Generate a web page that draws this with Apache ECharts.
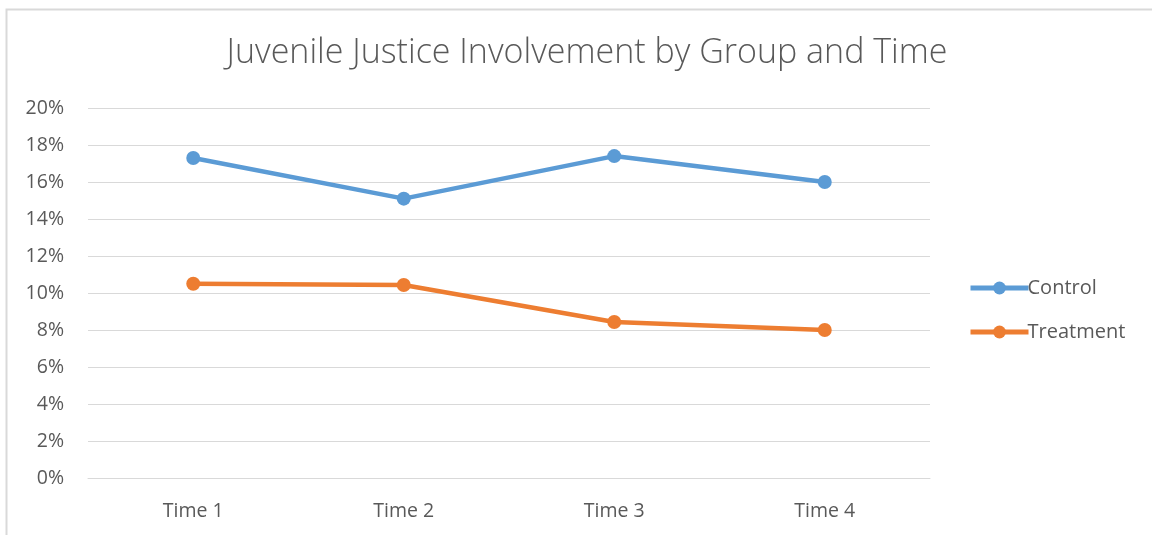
<!DOCTYPE html>
<html><head><meta charset="utf-8">
<script src="https://cdn.jsdelivr.net/npm/echarts@6/dist/echarts.min.js"></script>
<style>html,body{margin:0;padding:0;background:#fff}#c{width:1152px;height:535px}</style>
</head><body><div id="c"></div>
<script>
const categories = ['Time 1', 'Time 2', 'Time 3', 'Time 4'];
const controlValues = [17.3, 15.1, 17.4, 16.0];
const treatmentValues = [10.5, 10.43, 8.43, 8.0];
const yTicks = [0, 2, 4, 6, 8, 10, 12, 14, 16, 18, 20];

const chart = echarts.init(document.getElementById('c'), null, {renderer: 'canvas'});
const textColor = '#595959';
const font = 'Open Sans';
chart.setOption({
  animation: false,
  backgroundColor: '#fff',
  graphic: [{
    type: 'rect', shape: {x: 6.5, y: 9.5, width: 1300, height: 700},
    style: {fill: 'none', stroke: '#d9d9d9', lineWidth: 2}
  }],
  title: {
    text: 'Juvenile Justice Involvement by Group and Time',
    left: 582, top: 31, textAlign: 'center',
    textStyle: {fontFamily: font, fontWeight: 300, fontSize: 34, color: textColor}
  },
  grid: {left: 88, right: 222, top: 108, bottom: 57, containLabel: false},
  legend: {
    orient: 'vertical', left: 963, top: 273, itemGap: 24,
    itemWidth: 58, itemHeight: 16,
    lineStyle: {width: 5},
    textStyle: {fontFamily: font, fontSize: 20, color: textColor, padding: [0, 0, 0, -6]},
    data: ['Control', 'Treatment']
  },
  xAxis: {
    type: 'category', data: categories, boundaryGap: true,
    axisLine: {show: true, lineStyle: {color: '#d9d9d9', width: 1}},
    axisTick: {show: false},
    axisLabel: {fontFamily: font, fontSize: 19.5, color: textColor, margin: 23}
  },
  yAxis: {
    type: 'value', min: 0, max: 20, interval: 2,
    axisLine: {show: false}, axisTick: {show: false},
    splitLine: {lineStyle: {color: '#d9d9d9', width: 1}},
    axisLabel: {fontFamily: font, fontSize: 19.5, color: textColor, margin: 24,
      formatter: v => yTicks.includes(v) ? v + '%' : ''}
  },
  series: [
    {name: 'Control', type: 'line', data: controlValues, symbol: 'circle', symbolSize: 14,
     lineStyle: {width: 4.5, color: '#5b9bd5'}, itemStyle: {color: '#5b9bd5'}},
    {name: 'Treatment', type: 'line', data: treatmentValues, symbol: 'circle', symbolSize: 14,
     lineStyle: {width: 4.5, color: '#ed7d31'}, itemStyle: {color: '#ed7d31'}}
  ]
});
</script></body></html>
